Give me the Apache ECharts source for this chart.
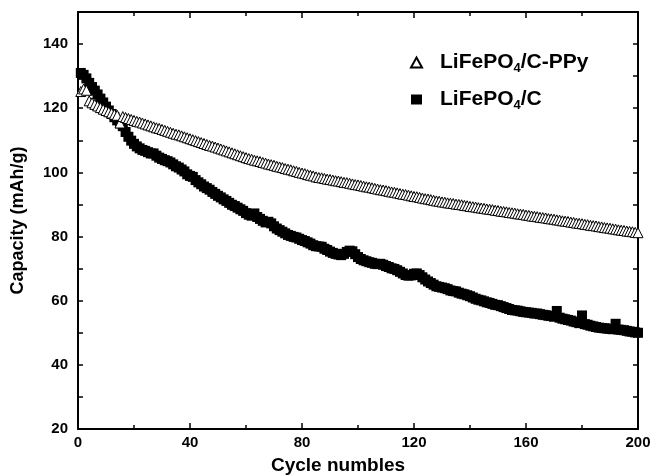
<!DOCTYPE html>
<html><head><meta charset="utf-8">
<script src="https://cdn.jsdelivr.net/npm/echarts@6/dist/echarts.min.js"></script>
<style>html,body{margin:0;padding:0;background:#fff}#c{width:660px;height:475px}</style>
</head><body><div id="c"></div>
<script>
// Capacity (mAh/g) per cycle, cycles 1..200
const ppyCapacity = [
125.2,126.0,125.6,122.3,121.7,121.2,120.7,120.2,119.7,119.3,
118.9,118.5,118.1,117.8,115.4,117.4,117.1,116.8,116.5,116.2,
115.9,115.7,115.4,115.1,114.8,114.5,114.2,113.9,113.7,113.4,
113.1,112.8,112.5,112.2,111.9,111.7,111.4,111.1,110.8,110.5,
110.2,109.9,109.6,109.3,109.0,108.7,108.4,108.2,107.9,107.6,
107.3,107.0,106.7,106.4,106.1,105.8,105.5,105.2,104.9,104.6,
104.3,104.1,103.8,103.6,103.4,103.1,102.9,102.6,102.4,102.2,
101.9,101.7,101.5,101.2,101.0,100.8,100.5,100.3,100.0,99.8,
99.6,99.3,99.1,98.9,98.6,98.4,98.3,98.1,97.9,97.8,
97.6,97.4,97.3,97.1,96.9,96.8,96.6,96.4,96.2,96.1,
95.9,95.7,95.5,95.4,95.2,95.0,94.8,94.6,94.5,94.3,
94.1,93.9,93.8,93.6,93.4,93.2,93.1,92.9,92.7,92.5,
92.4,92.2,92.0,91.8,91.7,91.5,91.3,91.1,91.0,90.8,
90.7,90.5,90.4,90.3,90.1,90.0,89.9,89.7,89.6,89.4,
89.3,89.2,89.0,88.9,88.8,88.6,88.5,88.4,88.2,88.1,
87.9,87.8,87.7,87.5,87.4,87.3,87.1,87.0,86.9,86.7,
86.6,86.4,86.3,86.2,86.0,85.9,85.8,85.6,85.5,85.4,
85.2,85.1,84.9,84.8,84.7,84.5,84.4,84.2,84.1,84.0,
83.8,83.7,83.5,83.4,83.3,83.1,83.0,82.8,82.7,82.6,
82.4,82.3,82.1,82.0,81.9,81.7,81.6,81.5,81.3,81.2
];
const cCapacity = [
131.0,130.4,129.3,127.9,126.6,125.5,124.3,123.0,121.8,120.5,
119.3,118.2,117.2,116.2,115.3,114.4,112.6,111.1,109.9,108.9,
108.1,107.5,107.0,106.7,106.3,105.9,105.9,105.2,104.6,104.2,
103.8,103.5,103.1,102.5,101.9,101.5,100.9,100.3,99.4,98.9,
98.6,97.6,96.9,96.3,95.6,95.1,94.6,93.9,93.3,92.7,
92.2,91.6,91.1,90.5,89.9,89.5,89.0,88.5,88.0,87.3,
86.8,86.5,87.2,86.1,85.5,84.9,84.4,84.6,84.1,83.2,
82.5,82.0,81.5,81.0,80.5,80.2,79.9,79.7,79.3,78.9,
78.6,78.2,77.8,77.3,77.0,76.9,76.8,76.2,75.8,75.3,
74.9,74.6,74.4,74.2,74.6,75.2,75.6,75.4,74.5,73.6,
73.0,72.6,72.3,72.0,71.8,71.5,71.4,71.5,71.2,70.8,
70.5,70.1,69.9,69.5,69.0,68.5,68.0,67.8,67.9,68.4,
68.5,68.0,67.3,66.6,66.0,65.5,65.0,64.5,64.3,64.1,
63.9,63.6,63.2,63.0,62.9,62.5,62.2,62.0,61.7,61.4,
61.0,60.6,60.3,60.1,59.8,59.5,59.3,59.0,58.7,58.6,
58.3,58.0,57.7,57.4,57.1,57.0,56.9,56.7,56.5,56.4,
56.3,56.2,56.0,56.0,55.8,55.6,55.5,55.3,55.2,55.0,
56.8,54.7,54.4,54.2,54.0,53.8,53.5,53.3,53.0,55.4,
52.7,52.5,52.2,52.0,51.8,51.6,51.5,51.4,51.3,51.2,
51.1,52.8,51.0,50.9,50.8,50.6,50.4,50.3,50.1,50.0
];
const seriesNames = ['LiFePO4/C-PPy', 'LiFePO4/C'];
const legendLabels = ['{n|LiFePO}{s|4}{n|/C-PPy}', '{n|LiFePO}{s|4}{n|/C}'];
const xTitle = 'Cycle numbles';
const yTitle = 'Capacity (mAh/g)';

const FONT = '"Liberation Sans", Arial, Helvetica, sans-serif';
const toPairs = arr => arr.map((v, i) => [i + 1, v]);

const axisLineStyle = {show: true, onZero: false, lineStyle: {color: '#000', width: 2}};
const tickStyle = {color: '#000', width: 1.5};
const labelStyle = {color: '#000', fontWeight: 'bold', fontSize: 15, fontFamily: FONT};

const chart = echarts.init(document.getElementById('c'), null, {renderer: 'canvas'});
chart.setOption({
  animation: false,
  backgroundColor: '#fff',
  grid: {left: 78, right: 22, top: 12, bottom: 46, containLabel: false, outerBoundsMode: 'none'},
  legend: {
    orient: 'vertical', left: 405, top: 47, itemGap: 14,
    itemWidth: 11, itemHeight: 10,
    data: [{name: seriesNames[0], icon: 'triangle'}, {name: seriesNames[1], icon: 'rect'}],
    formatter: name => legendLabels[seriesNames.indexOf(name)],
    textStyle: {
      padding: [0, 0, 0, 13],
      rich: {
        n: {fontSize: 21, fontWeight: 'bold', fontFamily: FONT, color: '#000'},
        s: {fontSize: 13, fontWeight: 'bold', fontFamily: FONT, color: '#000', padding: [12, 0, 0, 0]}
      }
    }
  },
  xAxis: [{
    type: 'value', min: 0, max: 200, interval: 40,
    axisLine: axisLineStyle,
    axisTick: {inside: true, length: 6, lineStyle: tickStyle},
    minorTick: {show: true, splitNumber: 2, length: 4, lineStyle: tickStyle},
    splitLine: {show: false}, minorSplitLine: {show: false},
    axisLabel: Object.assign({margin: 6}, labelStyle),
    name: xTitle, nameLocation: 'middle', nameGap: 27,
    nameTextStyle: {color: '#000', fontWeight: 'bold', fontSize: 19, fontFamily: FONT, padding: [0, 40, 0, 0]}
  }, {
    type: 'value', position: 'top', min: 0, max: 200, interval: 40,
    axisLine: axisLineStyle,
    axisTick: {inside: true, length: 6, lineStyle: tickStyle},
    minorTick: {show: true, splitNumber: 2, length: 4, lineStyle: tickStyle},
    splitLine: {show: false}, axisLabel: {show: false}
  }],
  yAxis: [{
    type: 'value', min: 20, max: 150, interval: 10,
    axisLine: axisLineStyle,
    axisTick: {inside: true, length: 5, lineStyle: tickStyle},
    splitLine: {show: false},
    axisLabel: Object.assign({margin: 10, showMaxLabel: false,
      formatter: v => (v % 20 === 0 && v < 150) ? String(v) : ''}, labelStyle),
    name: yTitle, nameLocation: 'middle', nameGap: 51,
    nameTextStyle: {color: '#000', fontWeight: 'bold', fontSize: 18, fontFamily: FONT}
  }, {
    type: 'value', position: 'right', min: 20, max: 150, interval: 10,
    axisLine: axisLineStyle,
    axisTick: {inside: true, length: 5, lineStyle: tickStyle},
    splitLine: {show: false}, axisLabel: {show: false}
  }],
  series: [{
    name: seriesNames[1], type: 'scatter', symbol: 'rect', symbolSize: 10, z: 2,
    itemStyle: {color: '#000', opacity: 1},
    data: toPairs(cCapacity)
  }, {
    name: seriesNames[0], type: 'scatter', symbol: 'triangle', symbolSize: 10, z: 3,
    itemStyle: {color: '#fff', borderColor: '#000', borderWidth: 1, opacity: 1},
    data: toPairs(ppyCapacity)
  }]
});
</script></body></html>
